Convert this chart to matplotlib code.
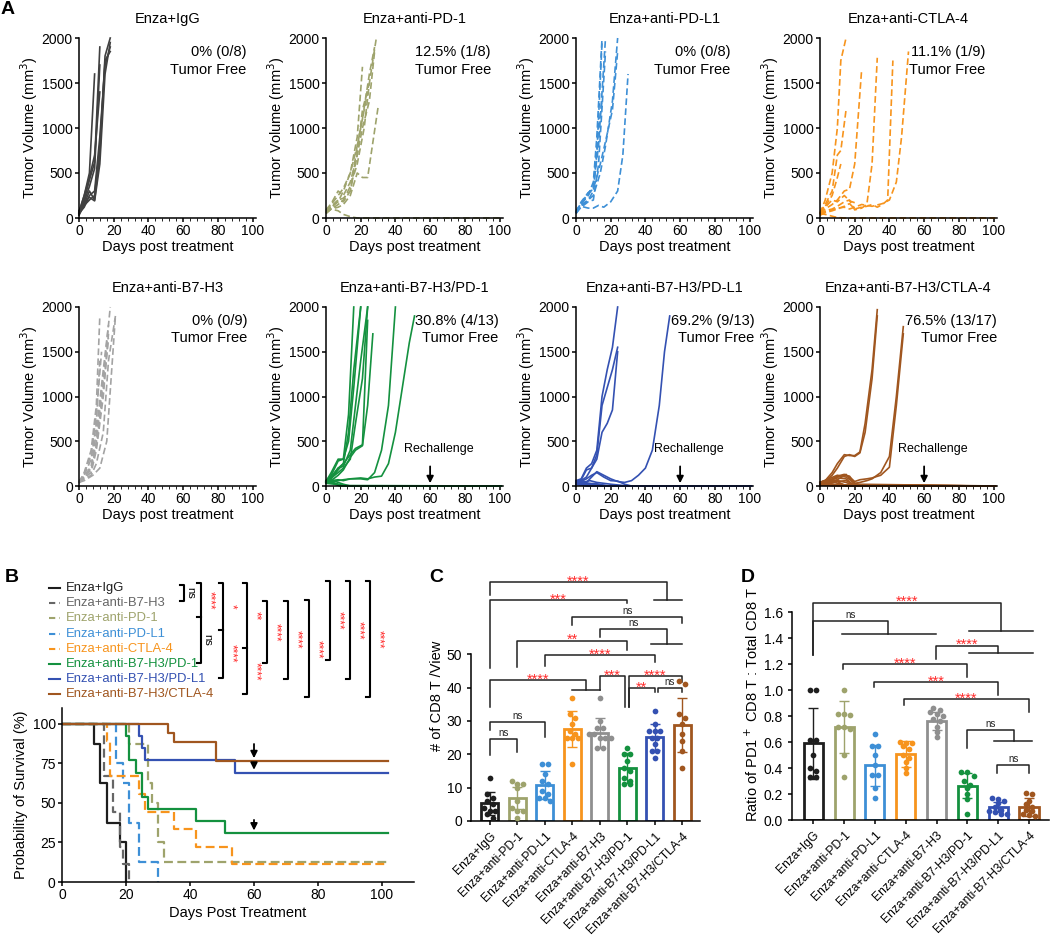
import numpy as np
import matplotlib
matplotlib.use("Agg")
import matplotlib.pyplot as plt
from matplotlib.ticker import MultipleLocator

plt.rcParams['font.family'] = ['Liberation Sans', 'DejaVu Sans']
plt.rcParams['axes.linewidth'] = 1.1
plt.rcParams['xtick.major.width'] = 1.1
plt.rcParams['ytick.major.width'] = 1.1
plt.rcParams['xtick.major.size'] = 3
plt.rcParams['ytick.major.size'] = 3

W, H = 1050, 936

# ---------------- colours ----------------
c_igg = '#1e1e1e'
c_b7 = '#8f8f8f'
c_pd1 = '#9ea36c'
c_pdl1 = '#3d8fd6'
c_ctla = '#f7941d'
c_b7pd1 = '#14913f'
c_b7pdl1 = '#3451b2'
c_b7ctla = '#a0561f'
c_star = '#ff2a2a'

# ---------------- panel A: tumour growth curves (day, volume) ----------------
igg_curves = [
    ([0, 3, 6, 9], [60, 250, 500, 1600]),
    ([0, 3, 6, 9, 12], [50, 200, 420, 620, 1900]),
    ([0, 3, 6, 9, 12], [40, 180, 350, 550, 1700]),
    ([0, 3, 6, 9, 12, 15, 18], [30, 150, 300, 200, 700, 1800, 2000]),
    ([0, 3, 6, 9, 12, 15, 18], [50, 120, 250, 300, 900, 1700, 1900]),
    ([0, 3, 6, 9, 12, 15, 18], [80, 170, 230, 190, 600, 1600, 1950]),
    ([0, 3, 6, 9, 12], [70, 250, 450, 700, 1400]),
    ([0, 3, 6, 9, 12, 15, 18], [60, 140, 200, 250, 800, 1750, 1850]),
]
pd1_curves = [
    ([0, 3, 7, 10, 14, 18, 21], [60, 120, 180, 300, 500, 900, 1680]),
    ([0, 3, 7, 10, 14, 18, 22, 25, 29], [50, 100, 150, 200, 350, 600, 1000, 1500, 2000]),
    ([0, 3, 7, 10, 14, 18, 21, 25, 28], [80, 150, 250, 330, 500, 800, 1100, 1600, 1900]),
    ([0, 3, 7, 10, 14, 18, 21, 25], [70, 130, 200, 180, 300, 700, 1200, 1500]),
    ([0, 3, 7, 10, 14, 18, 21, 24, 30], [60, 100, 120, 150, 250, 500, 450, 450, 1230]),
    ([0, 3, 7, 10, 14, 18, 21, 25, 28], [90, 160, 300, 250, 400, 700, 1000, 1300, 1850]),
    ([0, 3, 7, 10, 14, 18, 21, 24], [50, 110, 200, 220, 300, 800, 1100, 1400]),
    ([0, 3, 7, 10, 14, 18, 101], [60, 100, 80, 40, 15, 0, 0]),
]
pdl1_curves = [
    ([0, 3, 7, 10, 12, 15], [60, 150, 250, 400, 900, 2000]),
    ([0, 3, 7, 10, 12, 15], [50, 130, 200, 300, 700, 1950]),
    ([0, 3, 7, 10, 13, 17], [70, 170, 250, 350, 800, 2000]),
    ([0, 3, 7, 10, 13, 17], [60, 120, 180, 200, 600, 1850]),
    ([0, 3, 7, 10, 14, 17, 21, 24], [50, 140, 200, 250, 500, 800, 1300, 2000]),
    ([0, 3, 7, 10, 14, 17, 21, 24], [80, 160, 280, 320, 600, 850, 1200, 1850]),
    ([0, 3, 7, 10, 13, 15], [60, 180, 280, 330, 1000, 1300]),
    ([0, 3, 7, 10, 13, 16, 20, 24, 27, 30], [60, 130, 110, 110, 140, 120, 180, 300, 700, 1600]),
]
ctla_curves = [
    ([0, 3, 7, 10, 12, 15], [50, 200, 500, 1000, 1750, 2000]),
    ([0, 3, 7, 10, 12, 15], [60, 150, 300, 700, 750, 1200]),
    ([0, 3, 7, 10, 12], [40, 130, 250, 450, 600]),
    ([0, 3, 7, 10, 14, 17, 20, 24], [50, 100, 150, 200, 300, 320, 600, 1650]),
    ([0, 3, 7, 10, 14, 17, 20, 24, 27, 30, 33], [40, 80, 100, 130, 180, 200, 90, 110, 150, 600, 1780]),
    ([0, 3, 7, 10, 14, 17, 20, 24, 27, 30, 33, 36, 39, 42],
     [30, 60, 80, 100, 130, 160, 100, 120, 130, 150, 120, 150, 200, 1750]),
    ([0, 3, 7, 10, 14, 17, 20, 24, 30, 36, 40, 44, 47, 51],
     [40, 70, 90, 110, 120, 100, 120, 150, 130, 160, 200, 400, 900, 1850]),
    ([0, 3, 7, 10, 14, 17, 20], [50, 120, 200, 180, 250, 190, 170]),
    ([0, 3, 7, 10, 14, 101], [50, 40, 20, 5, 0, 0]),
]
b7_curves = [
    ([0, 3, 7, 10, 12], [40, 150, 400, 900, 1900]),
    ([0, 3, 7, 10, 12], [30, 120, 300, 700, 1400]),
    ([0, 3, 7, 10, 14, 18], [50, 100, 200, 500, 1200, 2000]),
    ([0, 3, 7, 10, 14, 17], [40, 90, 150, 400, 1000, 1700]),
    ([0, 3, 7, 10, 14, 17], [35, 100, 180, 450, 1100, 1650]),
    ([0, 3, 7, 10, 14, 17, 21], [40, 80, 120, 250, 600, 1400, 1900]),
    ([0, 3, 8, 12, 16, 21], [40, 60, 120, 200, 500, 1900]),
    ([0, 3, 7, 10, 14, 17], [50, 110, 220, 600, 1300, 1800]),
    ([0, 3, 7, 10, 13], [45, 140, 350, 800, 1500]),
]
b7pd1_curves = [
    ([0, 3, 7, 10, 13, 16], [50, 150, 300, 300, 800, 2000]),
    ([0, 3, 7, 10, 13, 16, 20], [40, 100, 200, 250, 600, 1300, 2000]),
    ([0, 3, 7, 10, 13, 16, 20], [60, 120, 280, 300, 500, 1100, 2000]),
    ([0, 3, 7, 10, 14, 17, 20, 24], [50, 100, 200, 220, 400, 900, 1400, 2000]),
    ([0, 3, 7, 10, 14, 17, 21, 24], [40, 90, 150, 200, 300, 700, 1200, 2000]),
    ([0, 3, 7, 10, 14, 17, 21, 24], [50, 80, 180, 250, 350, 420, 460, 1850]),
    ([0, 3, 7, 10, 14, 17, 21, 24, 27], [40, 60, 120, 180, 320, 400, 450, 900, 1700]),
    ([0, 3, 7, 10, 14, 20, 24, 28, 32, 36, 40], [50, 60, 70, 60, 80, 80, 70, 150, 400, 900, 2000]),
    ([0, 3, 7, 10, 14, 20, 24, 28, 32, 36, 40, 44, 48, 51],
     [40, 50, 60, 70, 80, 90, 80, 100, 110, 250, 600, 1100, 1600, 1900]),
    ([0, 4, 8, 12, 101], [60, 40, 15, 0, 0]),
    ([0, 4, 8, 101], [50, 30, 0, 0]),
    ([0, 3, 7, 10, 14, 101], [40, 70, 40, 20, 0, 0]),
    ([0, 5, 10, 101], [30, 20, 5, 0]),
]
b7pdl1_curves = [
    ([0, 3, 6, 9, 12, 15, 18, 21, 24], [60, 80, 200, 250, 400, 1000, 1300, 1550, 2000]),
    ([0, 3, 6, 9, 12, 15, 18, 21, 24], [50, 70, 180, 200, 350, 900, 1100, 1300, 1550]),
    ([0, 3, 6, 9, 12, 15, 18, 21, 24], [40, 60, 100, 200, 300, 600, 700, 850, 1500]),
    ([0, 3, 6, 9, 12, 16, 20, 24, 28, 32, 36, 40, 44, 48, 51, 54],
     [30, 60, 40, 100, 160, 120, 80, 50, 40, 60, 120, 200, 400, 900, 1500, 1900]),
    ([0, 3, 6, 9, 12, 16, 20, 24, 28, 32, 101], [60, 50, 80, 120, 150, 100, 60, 55, 20, 0, 0]),
    ([0, 4, 8, 12, 16, 20, 25, 30, 101], [50, 40, 60, 40, 30, 20, 10, 0, 0]),
    ([0, 5, 10, 15, 20, 101], [40, 30, 20, 10, 0, 0]),
    ([0, 5, 10, 15, 101], [30, 35, 20, 0, 0]),
    ([0, 4, 8, 12, 101], [20, 15, 10, 0, 0]),
    ([0, 5, 10, 101], [45, 25, 0, 0]),
    ([0, 6, 12, 18, 101], [35, 30, 25, 0, 0]),
    ([0, 4, 8, 101], [25, 10, 0, 0]),
    ([0, 3, 6, 101], [15, 10, 0, 0]),
]
b7ctla_curves = [
    ([0, 3, 7, 10, 14, 17, 20, 23, 26, 30, 33], [40, 60, 150, 250, 350, 340, 340, 380, 700, 1300, 1970]),
    ([0, 3, 7, 10, 14, 17, 20, 23, 26, 30, 33], [30, 50, 120, 200, 330, 350, 330, 370, 600, 1200, 1900]),
    ([0, 3, 7, 10, 14, 17, 20, 23, 27, 30, 35, 40, 44, 48],
     [30, 50, 70, 100, 120, 110, 30, 40, 60, 80, 150, 330, 1000, 1780]),
    ([0, 3, 7, 10, 14, 17, 20, 23, 27, 30, 35, 40, 44, 48],
     [40, 60, 80, 110, 130, 100, 50, 70, 80, 90, 120, 210, 900, 1700]),
    ([0, 5, 10, 15, 20, 25, 101], [40, 80, 120, 100, 30, 0, 0]),
    ([0, 5, 10, 15, 20, 101], [30, 60, 90, 80, 0, 0]),
    ([0, 5, 10, 15, 20, 101], [20, 50, 70, 130, 20, 0]),
    ([0, 5, 10, 15, 101], [35, 40, 50, 0, 0]),
    ([0, 5, 10, 15, 20, 101], [25, 30, 60, 40, 0, 0]),
    ([0, 5, 10, 101], [30, 20, 10, 0]),
    ([0, 5, 10, 15, 101], [40, 70, 30, 10, 0]),
    ([0, 4, 8, 101], [20, 15, 5, 0]),
    ([0, 5, 10, 15, 20, 101], [30, 40, 50, 60, 10, 0]),
    ([0, 5, 10, 101], [15, 30, 5, 0]),
    ([0, 5, 101], [25, 10, 0]),
    ([0, 6, 12, 101], [35, 25, 10, 0]),
    ([0, 4, 101], [10, 5, 0]),
]

a_titles = ['Enza+IgG', 'Enza+anti-PD-1', 'Enza+anti-PD-L1', 'Enza+anti-CTLA-4',
            'Enza+anti-B7-H3', 'Enza+anti-B7-H3/PD-1', 'Enza+anti-B7-H3/PD-L1', 'Enza+anti-B7-H3/CTLA-4']
a_free = ['0% (0/8)', '12.5% (1/8)', '0% (0/8)', '11.1% (1/9)',
          '0% (0/9)', '30.8% (4/13)', '69.2% (9/13)', '76.5% (13/17)']
a_free_x = [96.5, 95, 89, 95.5, 97, 99.5, 103, 102]
a_curves = [igg_curves, pd1_curves, pdl1_curves, ctla_curves,
            b7_curves, b7pd1_curves, b7pdl1_curves, b7ctla_curves]
a_colors = ['#404040', c_pd1, c_pdl1, c_ctla, '#a3a3a3', c_b7pd1, c_b7pdl1, c_b7ctla]
a_dashed = [False, True, True, True, True, False, False, False]
a_rechallenge = [False, False, False, False, False, True, True, True]

# ---------------- panel B: survival ----------------
km_names = ['Enza+IgG', 'Enza+anti-B7-H3', 'Enza+anti-PD-1', 'Enza+anti-PD-L1', 'Enza+anti-CTLA-4',
            'Enza+anti-B7-H3/PD-1', 'Enza+anti-B7-H3/PD-L1', 'Enza+anti-B7-H3/CTLA-4']
km_colors = [c_igg, '#666666', c_pd1, c_pdl1, c_ctla, c_b7pd1, c_b7pdl1, c_b7ctla]
km_dashed = [False, True, True, True, True, False, False, False]
km_igg_t = [0, 10, 12, 14, 18, 20]
km_igg_s = [100, 87.5, 62.5, 37.5, 25, 0]
km_b7_t = [0, 13, 16, 18, 19, 21]
km_b7_s = [100, 66.7, 44.4, 22.2, 11.1, 0]
km_pd1_t = [0, 21, 27, 28, 30, 32]
km_pd1_s = [100, 87.5, 62.5, 50, 25, 12.5]
km_pdl1_t = [0, 17, 19, 21, 24, 30]
km_pdl1_s = [100, 75, 62.5, 37.5, 12.5, 0]
km_ctla_t = [0, 14, 15, 24, 26, 35, 42, 53]
km_ctla_s = [100, 88.9, 66.7, 55.6, 44.4, 33.3, 22.2, 11.1]
km_b7pd1_t = [0, 20, 21, 23, 25, 27, 42, 51]
km_b7pd1_s = [100, 92.3, 76.9, 69.2, 53.8, 46.2, 38.5, 30.8]
km_b7pdl1_t = [0, 24, 25, 26, 54]
km_b7pdl1_s = [100, 92.3, 84.6, 76.9, 69.2]
km_b7ctla_t = [0, 33, 35, 48]
km_b7ctla_s = [100, 94.1, 88.2, 76.5]
km_times = [km_igg_t, km_b7_t, km_pd1_t, km_pdl1_t, km_ctla_t, km_b7pd1_t, km_b7pdl1_t, km_b7ctla_t]
km_surv = [km_igg_s, km_b7_s, km_pd1_s, km_pdl1_s, km_ctla_s, km_b7pd1_s, km_b7pdl1_s, km_b7ctla_s]
km_end = 102
km_arrow_from = [89, 76.5, 41]
km_arrow_to = [76.5, 69.2, 30.8]

# brackets beside the legend: x, top row, bottom row, middle row, [(label, row)]
b_brackets = [
    (184, -0.2, 0.86, None, [('ns', 0.33)]),
    (201, -0.33, 4.93, 1.9, [('****', 0.8), ('ns', 3.4)]),
    (223, -0.33, 5.92, 2.76, [('*', 1.2), ('****', 4.3)]),
    (247, -0.33, 6.97, 3.95, [('**', 1.8), ('****', 5.5)]),
    (267, 0.86, 4.93, None, [('****', 2.9)]),
    (288, 0.86, 5.99, None, [('****', 3.4)]),
    (309, 0.8, 7.2, None, [('****', 4.0)]),
    (330, -0.46, 4.74, None, [('****', 2.1)]),
    (350, -0.46, 5.99, None, [('****', 2.8)]),
    (370, -0.46, 7.2, None, [('****', 3.4)]),
]

# ---------------- panels C and D ----------------
bar_names = ['Enza+IgG', 'Enza+anti-PD-1', 'Enza+anti-PD-L1', 'Enza+anti-CTLA-4', 'Enza+anti-B7-H3',
             'Enza+anti-B7-H3/PD-1', 'Enza+anti-B7-H3/PD-L1', 'Enza+anti-B7-H3/CTLA-4']
bar_colors = [c_igg, c_pd1, c_pdl1, c_ctla, c_b7, c_b7pd1, c_b7pdl1, c_b7ctla]

c_means = [5.3, 6.9, 10.8, 27.6, 26.4, 15.9, 25.2, 28.8]
c_sds = [3.4, 3.4, 4.2, 5.4, 4.5, 4.5, 3.9, 8.1]
c_points = [
    [13, 8, 7, 6, 5, 4, 3, 2, 1, 3],
    [12, 11, 11, 10, 6, 4, 3, 3, 1],
    [17, 17, 14, 12, 11, 9, 8, 7, 7, 6],
    [37, 32, 31, 29, 27, 26, 25, 25, 25, 17],
    [37, 30, 28, 28, 26, 26, 25, 25, 25, 22, 22],
    [22, 20, 20, 18, 16, 15, 13, 12, 11, 11],
    [33, 29, 27, 27, 27, 25, 25, 23, 21, 21, 19],
    [42, 41, 32, 31, 29, 26, 24, 21, 16],
]
# x1, x2, top, left end, right end, label, sub-bar
c_brackets = [
    (0, 1, 24.6, 19.8, 20.8, 'ns', None),
    (0, 2, 29.8, 27.3, 25.2, 'ns', None),
    (0, 3.5, 42.3, 34.3, 39.3, '****', (3.0, 4.0)),
    (4.0, 4.93, 43.5, 39.3, 34.3, '***', None),
    (5.05, 7.0, 43.5, 34.3, 41.8, '****', None),
    (5.05, 6.0, 39.8, 34.3, 38.6, '**', None),
    (6.12, 7.0, 39.8, 38.6, 38.6, 'ns', None),
    (2.0, 6.0, 49.8, 46.6, 47.6, '****', None),
    (1.0, 5.0, 54.1, 46.3, 51.3, '**', None),
    (4.0, 6.44, 57.5, 55.1, 53.1, 'ns', (5.86, 6.98)),
    (3.0, 7.0, 61.3, 58.8, 59.3, 'ns', None),
    (0, 5.0, 66.3, 45.8, 65.3, '***', None),
    (0, 6.44, 71.6, 67.8, 66.3, '****', (5.96, 7.0)),
]

d_means = [0.59, 0.72, 0.42, 0.505, 0.765, 0.264, 0.10, 0.10]
d_sds = [0.275, 0.2, 0.16, 0.1, 0.07, 0.095, 0.04, 0.068]
d_points = [
    [1.0, 1.0, 0.62, 0.62, 0.5, 0.4, 0.38, 0.33, 0.33],
    [1.0, 0.82, 0.82, 0.81, 0.72, 0.72, 0.7, 0.5, 0.33],
    [0.66, 0.57, 0.57, 0.5, 0.42, 0.35, 0.35, 0.25, 0.17],
    [0.6, 0.59, 0.59, 0.57, 0.55, 0.5, 0.48, 0.45, 0.4, 0.36],
    [0.86, 0.85, 0.83, 0.82, 0.8, 0.78, 0.76, 0.72, 0.68, 0.64],
    [0.37, 0.37, 0.34, 0.3, 0.27, 0.25, 0.2, 0.16, 0.05],
    [0.17, 0.16, 0.15, 0.13, 0.1, 0.08, 0.07, 0.06, 0.05, 0.05],
    [0.21, 0.2, 0.15, 0.12, 0.1, 0.08, 0.07, 0.05, 0.04, 0.03],
]
d_brackets = [
    (0, 6.08, 1.674, 1.27, 1.458, '****', (5.06, 7.14)),
    (0, 2.44, 1.533, 1.27, 1.433, 'ns', (0.92, 3.97)),
    (3.98, 6.0, 1.343, 1.238, 1.29, '****', (5.06, 7.14)),
    (0.97, 5.0, 1.2, 1.16, 1.1, '****', None),
    (1.97, 6.0, 1.06, 1.023, 0.964, '***', None),
    (2.94, 7.0, 0.93, 0.887, 0.83, '****', None),
    (4.98, 6.5, 0.69, 0.554, 0.61, 'ns', (5.88, 7.09)),
    (5.97, 7.01, 0.425, 0.36, 0.36, 'ns', None),
]


def box(l, t, r, b):
    return [l / W, 1 - b / H, (r - l) / W, (b - t) / H]


def clean(ax):
    ax.spines['top'].set_visible(False)
    ax.spines['right'].set_visible(False)


def spread(vals, tol, step):
    # deterministic side-by-side placement of close values
    order = np.argsort(vals)[::-1]
    offs = np.zeros(len(vals))
    rows = []
    for i in order:
        if rows and abs(vals[rows[-1][0]] - vals[i]) < tol:
            rows[-1].append(i)
        else:
            rows.append([i])
    for r in rows:
        k = len(r)
        for j, i in enumerate(r):
            offs[i] = (j - (k - 1) / 2) * step
    return offs


def draw_brackets(ax, brackets, star_fs=10.5, ns_fs=7):
    for x1, x2, y, yl, yr, lab, sub in brackets:
        ax.plot([x1, x1, x2, x2], [yl, y, y, yr], color='#222222', lw=1.1, clip_on=False)
        if sub is not None:
            ax.plot([sub[0], sub[1]], [yr, yr], color='#222222', lw=1.1, clip_on=False)
        if '*' in lab:
            ax.annotate(lab, xy=((x1 + x2) / 2, y), xytext=(0, -2.5), textcoords='offset points',
                        ha='center', va='baseline', color=c_star, fontsize=star_fs, annotation_clip=False)
        else:
            ax.annotate(lab, xy=((x1 + x2) / 2, y), xytext=(0, 0.8), textcoords='offset points',
                        ha='center', va='bottom', color='#222222', fontsize=ns_fs, annotation_clip=False)


def bar_panel(ax, means, sds, points, tol, ymax, spine_top):
    x = np.arange(len(means))
    for i in x:
        col = bar_colors[i]
        ax.bar(i, means[i], width=0.62, facecolor='white', edgecolor=col, linewidth=2.0, zorder=2)
        ax.errorbar(i, means[i], yerr=sds[i], color=col, capsize=3.5, lw=1.0, capthick=1.0, zorder=3)
        offs = spread(np.array(points[i], dtype=float), tol, 0.2)
        ax.scatter(i + offs, points[i], s=17, color=col, zorder=4, linewidths=0)
    clean(ax)
    ax.set_xlim(-0.69, 7.65)
    ax.set_ylim(0, ymax)
    ax.spines['left'].set_bounds(0, spine_top)
    ax.set_xticks(x)
    ax.set_xticklabels(bar_names, rotation=45, ha='right', rotation_mode='anchor', fontsize=8.7)
    ax.tick_params(axis='y', labelsize=10)


fig = plt.figure(figsize=(W / 100, H / 100), dpi=100)

# ---------------- panel A ----------------
a_lefts = [79, 326, 576, 820]
a_rows = [(38, 218), (307, 486)]
for k in range(8):
    row, col = divmod(k, 4)
    top, bot = a_rows[row]
    ax = fig.add_axes(box(a_lefts[col], top, a_lefts[col] + 177, bot))
    ls = (0, (4, 2)) if a_dashed[k] else '-'
    for d, v in a_curves[k]:
        ax.plot(d, v, color=a_colors[k], ls=ls, lw=1.2, clip_on=False)
    clean(ax)
    ax.set_xlim(0, 102)
    ax.set_ylim(0, 2000)
    ax.set_xticks([0, 20, 40, 60, 80, 100])
    ax.xaxis.set_minor_locator(MultipleLocator(4))
    ax.tick_params(axis='x', which='minor', length=2)
    ax.set_yticks([0, 500, 1000, 1500, 2000])
    ax.tick_params(labelsize=10, pad=1.5)
    ax.set_title(a_titles[k], fontsize=10.5, pad=11)
    ax.set_ylabel('Tumor Volume (mm$^3$)', fontsize=10.5, labelpad=1)
    ax.set_xlabel('Days post treatment', fontsize=10.5, labelpad=1)
    ax.text(a_free_x[k], 1840, a_free[k], ha='right', va='center', fontsize=10.5, clip_on=False)
    ax.text(a_free_x[k], 1650, 'Tumor Free', ha='right', va='center', fontsize=10.5, clip_on=False)
    if a_rechallenge[k]:
        ax.text(65, 410, 'Rechallenge', ha='center', va='center', fontsize=9)
        ax.annotate('', xy=(60, 0), xytext=(60, 250),
                    arrowprops=dict(arrowstyle='-|>', color='k', lw=1.3, mutation_scale=10))

# ---------------- panel B ----------------
ax_leg = fig.add_axes(box(40, 575, 400, 705))
ax_leg.set_xlim(40, 400)
ax_leg.set_ylim(7.7, -0.855)
ax_leg.axis('off')
for r in range(8):
    ls = (0, (3, 2)) if km_dashed[r] else '-'
    ax_leg.plot([49, 60], [r, r], color=km_colors[r], ls=ls, lw=1.5)
    ax_leg.text(66, r, km_names[r], color=km_colors[r], va='center', fontsize=9.4)
for x, t, b, m, labs in b_brackets:
    ax_leg.plot([x - 4, x, x, x - 4], [t, t, b, b], color='k', lw=1.5, clip_on=False)
    if m is not None:
        ax_leg.plot([x - 4, x], [m, m], color='k', lw=1.5)
    for lab, yy in labs:
        if '*' in lab:
            ax_leg.text(x + 8, yy, lab, rotation=270, color=c_star, ha='center', va='center', fontsize=8.5)
        else:
            ax_leg.text(x + 6, yy, lab, rotation=270, color='k', ha='center', va='center', fontsize=8)

ax_km = fig.add_axes(box(62, 708, 414, 882))
for i in range(8):
    t = list(km_times[i])
    s = list(km_surv[i])
    if s[-1] > 0:
        t.append(km_end)
        s.append(s[-1])
    ls = (0, (4, 2)) if km_dashed[i] else '-'
    ax_km.step(t, s, where='post', color=km_colors[i], ls=ls, lw=1.6)
for a0, a1 in zip(km_arrow_from, km_arrow_to):
    ax_km.annotate('', xy=(60, a1), xytext=(60, a0),
                   arrowprops=dict(arrowstyle='-|>', color='k', lw=1.3, mutation_scale=10))
clean(ax_km)
ax_km.set_xlim(0, 110)
ax_km.set_ylim(0, 110)
ax_km.set_xticks([0, 20, 40, 60, 80, 100])
ax_km.set_yticks([0, 25, 50, 75, 100])
ax_km.tick_params(labelsize=10, pad=1.5)
ax_km.set_ylabel('Probability of Survival (%)', fontsize=10.5, labelpad=3)
ax_km.set_xlabel('Days Post Treatment', fontsize=10.5, labelpad=3)

# ---------------- panel C ----------------
ax_c = fig.add_axes(box(471, 571, 700, 821))
bar_panel(ax_c, c_means, c_sds, c_points, 1.3, 75, 50)
ax_c.set_yticks([0, 10, 20, 30, 40, 50])
ax_c.set_ylabel('# of CD8 T /View', fontsize=10.5, labelpad=2)
draw_brackets(ax_c, c_brackets)

# ---------------- panel D ----------------
ax_d = fig.add_axes(box(792, 589, 1049, 820))
bar_panel(ax_d, d_means, d_sds, d_points, 0.03, 1.78, 1.6)
ax_d.set_yticks(np.arange(0, 1.61, 0.2))
ax_d.yaxis.set_major_formatter(plt.FormatStrFormatter('%.1f'))
ax_d.set_ylabel('Ratio of PD1$^+$ CD8 T : Total CD8 T', fontsize=10.5, labelpad=2)
draw_brackets(ax_d, d_brackets)

# panel letters
for lab, px, py in [('A', 8, 10), ('B', 12, 578), ('C', 436, 578), ('D', 748, 578)]:
    fig.text(px / W, 1 - py / H, lab, fontsize=14, fontweight='bold', va='center', ha='center')

fig.savefig('out.png', dpi=100)
